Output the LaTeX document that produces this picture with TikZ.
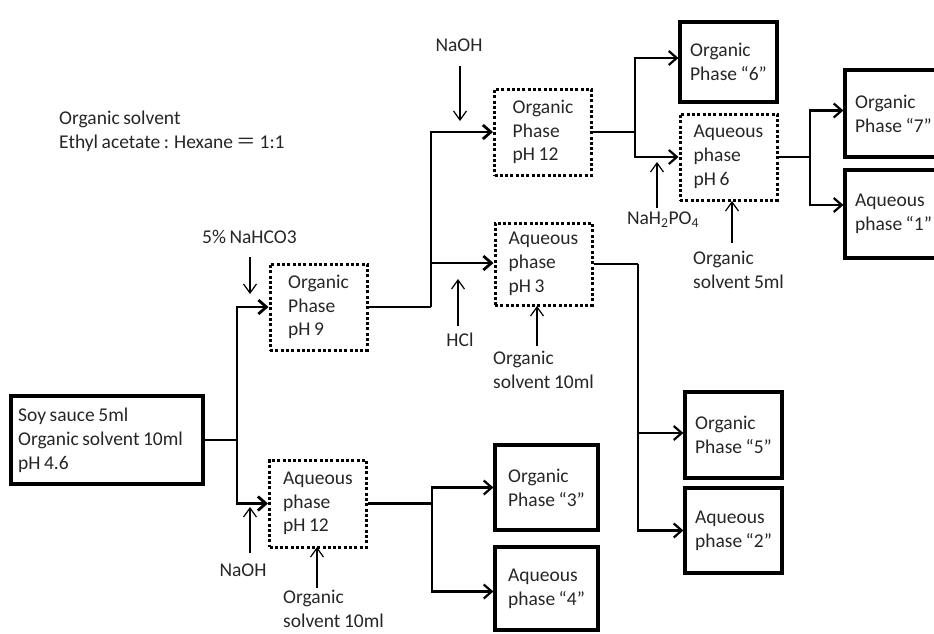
\documentclass[tikz,border=0pt]{standalone}
\usepackage{fontspec}
\setmainfont{Carlito}[WordSpace=0.8]
\newfontfamily\cjk{Noto Sans CJK SC}
\usetikzlibrary{arrows.meta}
\tikzset{
  txt/.style={font=\fontsize{19.5}{23.8}\selectfont, text=black!85},
  solidbox/.style={txt, draw, line width=3.2pt, align=left, inner sep=0pt, minimum width=97pt, minimum height=86pt},
  dotbox/.style={solidbox, line width=3pt, dash pattern=on 3pt off 2.3pt},
  wire/.style={line width=2.8pt},
  wireb/.style={line width=2.2pt},
  conn/.style={wire, -{Straight Barb[length=8pt,width=14pt]}},
  connb/.style={wireb, -{Straight Barb[length=8pt,width=14pt]}},
  reag/.style={line width=1.2pt, -{Straight Barb[length=9pt,width=13pt]}},
  lbl/.style={txt, align=left, inner sep=0pt},
}
\begin{document}
\begin{tikzpicture}[x=1pt,y=-1pt]
\useasboundingbox (0,0) rectangle (934,633);
\clip (0,0) rectangle (934,633);

% title
\node[lbl, anchor=west] (title) at (59,131.5) {Organic solvent\\Ethyl acetate : Hexane {\cjk ＝} 1:1};

% boxes
\node[solidbox, minimum width=192pt, minimum height=88pt] (soy) at (107,440) {};
\node[lbl, anchor=west] (soytxt) at (18,440.5) {Soy sauce 5ml\\Organic solvent 10ml\\pH 4.6};
\node[dotbox] (p9) at (318.5,307) {Organic\\Phase\\pH 9};
\node[dotbox, minimum height=87pt] (aq12) at (318,503.5) {Aqueous\\phase\\pH 12};
\node[dotbox] (o12) at (543,132) {Organic\\Phase\\pH 12};
\node[dotbox, minimum height=82pt] (aq3) at (543.5,264) {Aqueous\\phase\\pH 3};
\node[solidbox, minimum height=80pt] (o6) at (728.5,62) {Organic\\Phase “6”};
\node[dotbox] (ph6) at (728.5,157) {Aqueous\\phase\\pH 6};
\node[solidbox, minimum height=87pt] (o7) at (893.5,113.5) {Organic\\Phase “7”};
\node[solidbox, minimum height=88pt] (aq1) at (893.5,214) {Aqueous\\phase “1”};
\node[solidbox] (o5) at (733.5,435) {Organic\\Phase “5”};
\node[solidbox, minimum height=85pt] (aq2) at (733.5,530.5) {Aqueous\\phase “2”};
\node[solidbox, minimum width=103pt, minimum height=85pt] (o3) at (546.5,487.5) {Organic\\Phase “3”};
\node[solidbox, minimum width=103pt, minimum height=83pt] (aq4) at (546.5,588.5) {Aqueous\\phase “4”};

% junctions
\coordinate (j1) at (237,440);
\coordinate (j2) at (431,307);
\coordinate (j3) at (635,132);
\coordinate (j4) at (638,264);
\coordinate (j5) at (432,503.5);
\coordinate (j6) at (810,157);

% connectors
\draw[wire] (soy.east) -- (j1);
\draw[conn] (j1) |- (p9.west);
\draw[conn] (j1) |- (aq12.west);
\draw[wire] (p9.east) -- (j2);
\draw[conn] (j2) |- (o12.west);
\draw[conn] (j2) |- ([yshift=1pt]aq3.west);
\draw[wireb] (o12.east) -- (j3);
\draw[connb] (j3) |- ([yshift=4pt]o6.west);
\draw[connb] (j3) |- (ph6.west);
\draw[wireb] (ph6.east) -- (j6);
\draw[connb] (j6) |- ([yshift=3pt]o7.west);
\draw[connb] (j6) |- ([yshift=9pt]aq1.west);
\draw[wireb] (aq3.east) -- (j4);
\draw[connb] (j4) |- ([yshift=2pt]o5.west);
\draw[connb] (j4) |- (aq2.west);
\draw[wire] (aq12.east) -- (j5);
\draw[connb] (j5) |- (o3.west);
\draw[connb] (j5) |- ([yshift=-3pt]aq4.west);

% reagent labels
\node[lbl, anchor=west] (lnahco3) at (202,237) {5\% NaHCO3};
\node[lbl] (lnaoh1) at (459,45) {NaOH};
\node[lbl] (lhcl) at (460,340) {HCl};
\node[lbl, anchor=west] (lsolv3) at (493,370) {Organic\\solvent 10ml};
\node[lbl] (lnah2po4) at (663,220) {NaH\textsubscript{2}PO\textsubscript{4}};
\node[lbl, anchor=west] (lsolv6) at (693,270) {Organic\\solvent 5ml};
\node[lbl] (lnaoh2) at (243,570) {NaOH};
\node[lbl, anchor=west] (lsolv12) at (283,609) {Organic\\solvent 10ml};

% reagent arrows
\coordinate (r1a) at (250,257); \coordinate (r1b) at (250,294);
\coordinate (r2a) at (460,66);  \coordinate (r2b) at (460,121);
\coordinate (r3a) at (458,326); \coordinate (r3b) at (458,279);
\coordinate (r4a) at (537,346); \coordinate (r4b) at (537,306);
\coordinate (r5a) at (657,208); \coordinate (r5b) at (657,162);
\coordinate (r6a) at (732,243); \coordinate (r6b) at (732,201);
\coordinate (r7a) at (250,553); \coordinate (r7b) at (250,507);
\coordinate (r8a) at (317,588); \coordinate (r8b) at (317,547);
\draw[reag] (r1a) -- (r1b);
\draw[reag] (r2a) -- (r2b);
\draw[reag] (r3a) -- (r3b);
\draw[reag] (r4a) -- (r4b);
\draw[reag] (r5a) -- (r5b);
\draw[reag] (r6a) -- (r6b);
\draw[reag] (r7a) -- (r7b);
\draw[reag] (r8a) -- (r8b);
\end{tikzpicture}
\end{document}
